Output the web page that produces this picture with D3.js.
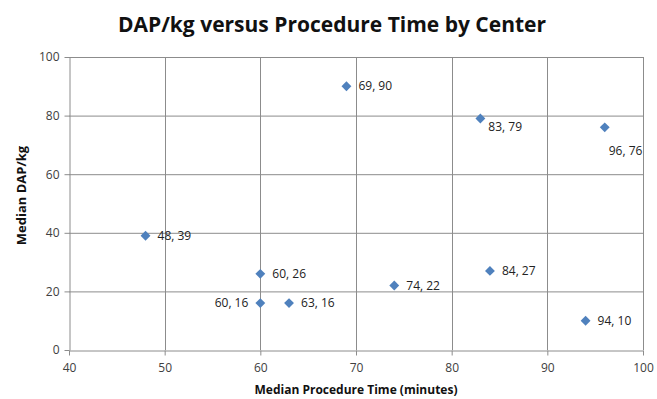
<!DOCTYPE html>
<html>
<head>
<meta charset="utf-8">
<script src="https://cdn.jsdelivr.net/npm/d3@7"></script>
<style>
  html, body { margin: 0; padding: 0; background: #fff; }
  svg { display: block; font-family: "Open Sans", "Noto Sans", sans-serif; }
</style>
</head>
<body>
<svg id="chart" width="657" height="399"></svg>
<script>
// Median procedure time (minutes) and median DAP/kg per center
const procTime = [69, 83, 96, 48, 60, 60, 63, 74, 84, 94];
const dapPerKg = [90, 79, 76, 39, 26, 16, 16, 22, 27, 10];
// where each point's "x, y" label sits relative to its marker
const labelPos = ["right", "below-right", "below", "right", "right", "left", "right", "right", "right", "right"];

const xTicks = [40, 50, 60, 70, 80, 90, 100];
const yTicks = [0, 20, 40, 60, 80, 100];

const svg = d3.select("#chart");
const margin = { left: 69, right: 14, top: 57, bottom: 49 };
const W = 657, H = 399;

const x = d3.scaleLinear().domain([40, 100]).range([margin.left, W - margin.right]);
const y = d3.scaleLinear().domain([0, 100]).range([H - margin.bottom, margin.top]);

const gridColor = "#8c8c8c";
const textColor = "#404040";

// title
svg.append("text")
  .attr("x", 332).attr("y", 32)
  .attr("text-anchor", "middle")
  .attr("font-size", 21).attr("font-weight", "bold")
  .attr("fill", "#111")
  .text("DAP/kg versus Procedure Time by Center");

// gridlines
svg.append("g").selectAll("line").data(yTicks.filter(d => d > 0)).join("line")
  .attr("x1", x(40)).attr("x2", x(100))
  .attr("y1", d => y(d) + 0.5).attr("y2", d => y(d) + 0.5)
  .attr("stroke", gridColor).attr("stroke-width", 1);
svg.append("g").selectAll("line").data(xTicks.filter(d => d > 40)).join("line")
  .attr("x1", d => Math.round(x(d)) + 0.5).attr("x2", d => Math.round(x(d)) + 0.5)
  .attr("y1", y(0)).attr("y2", y(100))
  .attr("stroke", gridColor).attr("stroke-width", 1);

// axes
const xAxis = svg.append("g")
  .attr("transform", `translate(0,${y(0) + 0.5})`)
  .call(d3.axisBottom(x).tickValues(xTicks).tickSize(5).tickSizeOuter(0).tickPadding(8));
const yAxis = svg.append("g")
  .attr("transform", `translate(${x(40) + 0.5},0)`)
  .call(d3.axisLeft(y).tickValues(yTicks).tickSize(5).tickSizeOuter(0).tickPadding(5));
[xAxis, yAxis].forEach(g => {
  g.select(".domain").attr("stroke", gridColor);
  g.selectAll(".tick line").attr("stroke", gridColor);
  g.selectAll(".tick text").attr("fill", textColor).attr("font-size", 12)
    .attr("font-family", "'Open Sans', 'Noto Sans', sans-serif");
});

// axis titles
svg.append("text")
  .attr("x", 356).attr("y", 394)
  .attr("text-anchor", "middle")
  .attr("font-size", 12).attr("font-weight", "bold").attr("fill", "#111")
  .text("Median Procedure Time (minutes)");
svg.append("text")
  .attr("transform", `translate(26,${(y(0) + y(100)) / 2 - 8}) rotate(-90)`)
  .attr("text-anchor", "middle")
  .attr("font-size", 13).attr("font-weight", "bold").attr("fill", "#111")
  .text("Median DAP/kg");

// points
const pts = procTime.map((t, i) => ({ t, d: dapPerKg[i], pos: labelPos[i] }));
const diamond = d3.symbol().type(d3.symbolDiamond2).size(62);
svg.append("g").selectAll("path").data(pts).join("path")
  .attr("transform", p => `translate(${x(p.t)},${y(p.d)})`)
  .attr("d", diamond)
  .attr("fill", "#4f81bd");

// data labels
const offsets = {
  "right":       { dx: 12, dy: 4, anchor: "start" },
  "left":        { dx: -12, dy: 4, anchor: "end" },
  "below-right": { dx: 8, dy: 12, anchor: "start" },
  "below":       { dx: 4, dy: 28, anchor: "start" }
};
svg.append("g").selectAll("text").data(pts).join("text")
  .attr("x", p => x(p.t) + offsets[p.pos].dx)
  .attr("y", p => y(p.d) + offsets[p.pos].dy)
  .attr("text-anchor", p => offsets[p.pos].anchor)
  .attr("font-size", 12).attr("fill", "#222")
  .text(p => `${p.t}, ${p.d}`);
</script>
</body>
</html>
